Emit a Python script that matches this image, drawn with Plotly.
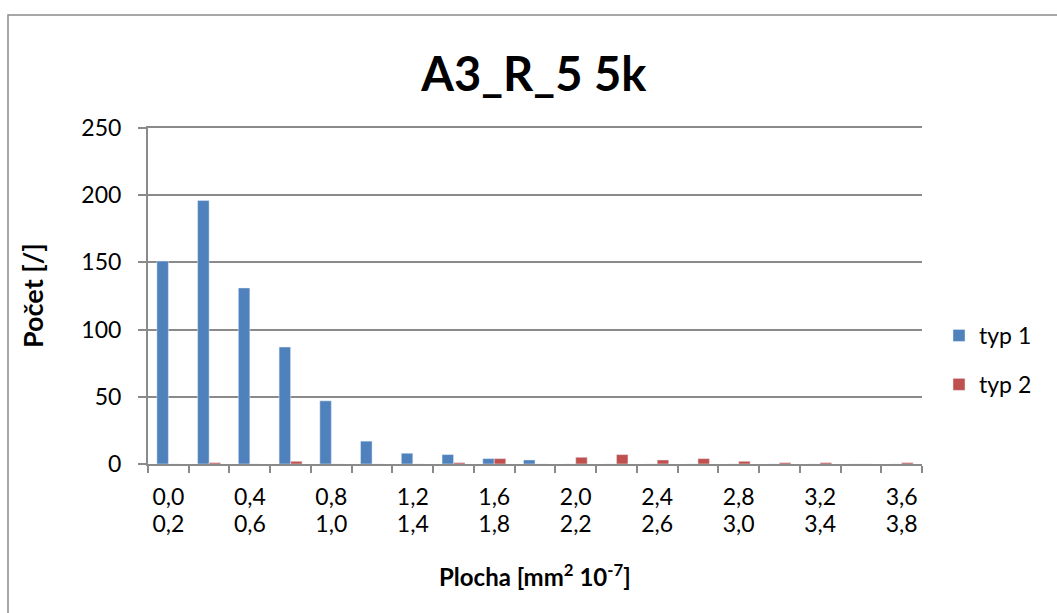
import plotly.graph_objects as go

# Histogram bins of area (mm^2 10^-7), width 0.2
bin_starts = ["0,0", "0,2", "0,4", "0,6", "0,8", "1,0", "1,2", "1,4", "1,6", "1,8",
              "2,0", "2,2", "2,4", "2,6", "2,8", "3,0", "3,2", "3,4", "3,6"]
bin_ends = ["0,2", "0,4", "0,6", "0,8", "1,0", "1,2", "1,4", "1,6", "1,8", "2,0",
            "2,2", "2,4", "2,6", "2,8", "3,0", "3,2", "3,4", "3,6", "3,8"]
typ1 = [151, 196, 131, 87, 47, 17, 8, 7, 4, 3, 0, 0, 0, 0, 0, 0, 0, 0, 0]
typ2 = [0, 1, 0, 2, 0, 0, 0, 1, 4, 0, 5, 7, 3, 4, 2, 1, 1, 0, 1]

categories = [f"{a}-{b}" for a, b in zip(bin_starts, bin_ends)]
positions = list(range(len(categories)))

FONT = "Lato"
GRAY = "#8a8a8a"
TICK_SIZE = 23

fig = go.Figure()
fig.add_trace(go.Bar(x=positions, y=typ1, name="typ 1", marker_color="#4F81BD",
                     legendgroup="a", hovertext=categories))
fig.add_trace(go.Bar(x=positions, y=typ2, name="typ 2", marker_color="#C0504D",
                     legendgroup="b", hovertext=categories))

n = len(categories)
label_idx = positions[::2]

# invisible traces so the two label axes are active
for ax in ("x2", "x3"):
    fig.add_trace(go.Scatter(x=[0], y=[0], xaxis=ax, mode="markers",
                             marker=dict(opacity=0), showlegend=False, hoverinfo="skip"))

label_axis = dict(overlaying="x", side="bottom", range=[-0.5, n - 0.5],
                  tickvals=label_idx, ticks="", showline=False, showgrid=False,
                  zeroline=False, fixedrange=True,
                  tickfont=dict(family=FONT, size=TICK_SIZE))

fig.update_layout(
    width=1057, height=613,
    margin=dict(l=148, r=135, t=128, b=149),
    paper_bgcolor="white", plot_bgcolor="white",
    font=dict(family=FONT, size=TICK_SIZE, color="black"),
    barmode="group", bargap=0.436, bargroupgap=0,
    title=dict(text="<b>A3_R_5 5k</b>", x=0.505, xanchor="center",
               y=1 - 75 / 613, yanchor="middle",
               font=dict(family=FONT, size=47, color="black")),
    legend=dict(x=(939 - 148) / 774, y=(464 - 360) / 336, xanchor="left", yanchor="middle",
                traceorder="grouped", tracegroupgap=16,
                font=dict(family=FONT, size=TICK_SIZE), bgcolor="rgba(0,0,0,0)"),
    xaxis=dict(range=[-0.5, n - 0.5], tickvals=[i - 0.5 for i in range(n + 1)],
               showticklabels=False, ticks="outside", ticklen=7, tickwidth=2,
               tickcolor=GRAY, showline=True, mirror=True, linecolor=GRAY, linewidth=2,
               showgrid=False, zeroline=False, fixedrange=True),
    xaxis2=dict(label_axis, ticktext=[bin_starts[i] for i in label_idx],
                ticklabelstandoff=17),
    xaxis3=dict(label_axis, ticktext=[bin_ends[i] for i in label_idx],
                ticklabelstandoff=44),
    yaxis=dict(range=[0, 250], tickvals=[0, 50, 100, 150, 200, 250],
               ticks="outside", ticklen=8, tickwidth=2, tickcolor=GRAY,
               showline=True, linecolor=GRAY, linewidth=2,
               showgrid=True, gridcolor=GRAY, gridwidth=2, zeroline=False,
               ticklabelstandoff=12, fixedrange=True,
               tickfont=dict(family=FONT, size=TICK_SIZE)),
    annotations=[
        dict(text="<b>Plocha [mm<sup>2</sup> 10<sup>-7</sup>]</b>", xref="paper", yref="paper",
             x=(535 - 148) / 774, y=(464 - 575) / 336, xanchor="center", yanchor="middle",
             showarrow=False, font=dict(family=FONT, size=24)),
        dict(text="<b>Počet [/]</b>", xref="paper", yref="paper", textangle=-90,
             x=(32 - 148) / 774, y=(464 - 296) / 336, xanchor="center", yanchor="middle",
             showarrow=False, font=dict(family=FONT, size=27)),
    ],
    shapes=[dict(type="rect", xref="paper", yref="paper",
                 x0=(8 - 148) / 774, x1=(1070 - 148) / 774,
                 y0=(464 - 630) / 336, y1=(464 - 15) / 336,
                 line=dict(color=GRAY, width=1.5), fillcolor="rgba(0,0,0,0)",
                 layer="below")],
)

fig.write_html("out.html")
